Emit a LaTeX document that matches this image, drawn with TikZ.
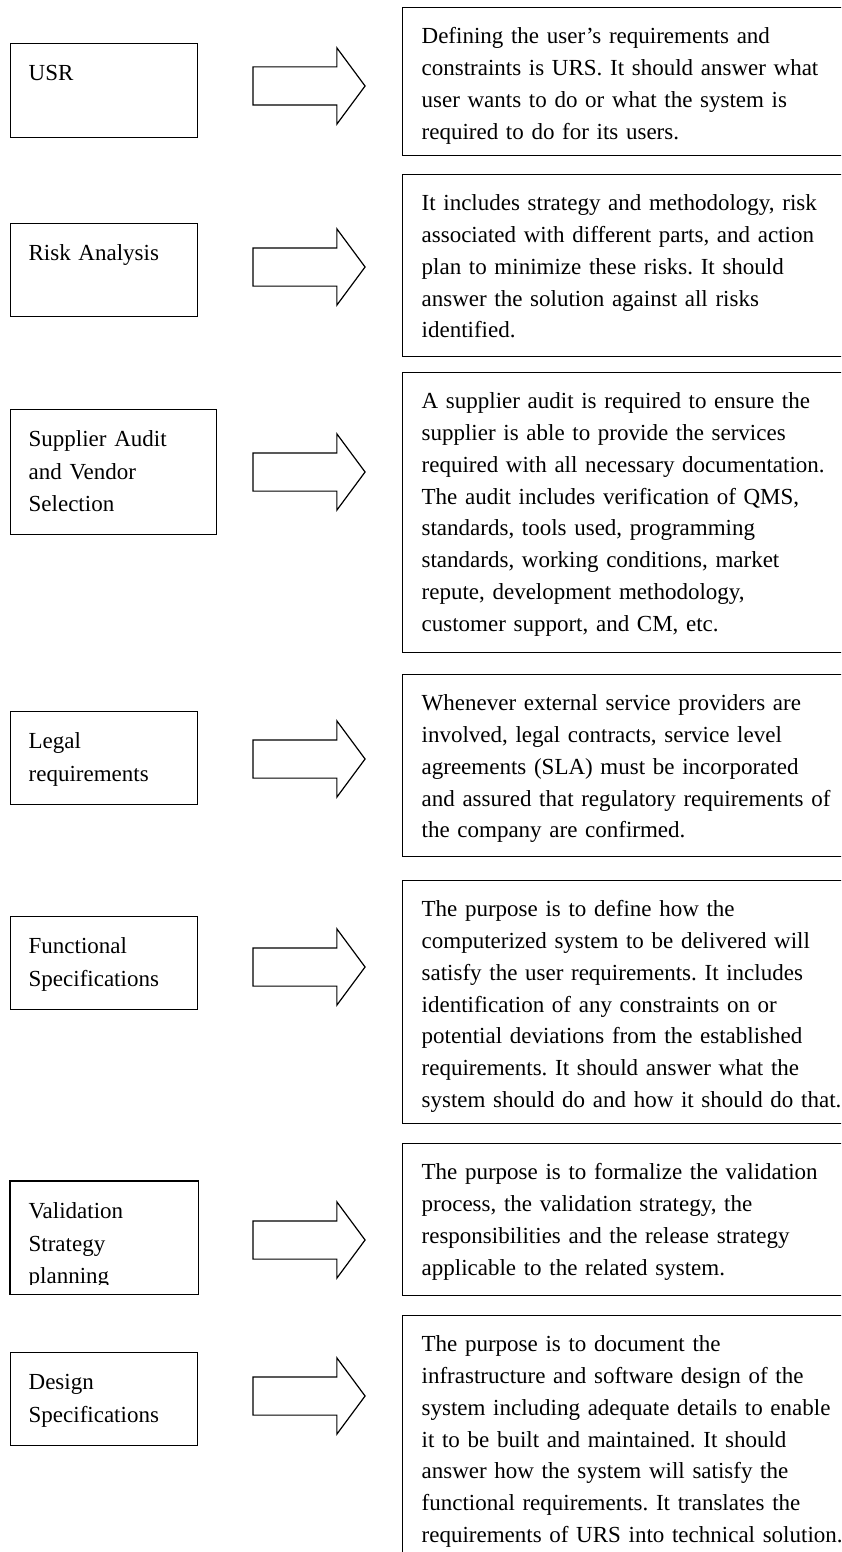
\documentclass[tikz,border=0pt]{standalone}
\usepackage{fontspec}
\setmainfont{Liberation Serif}
\usetikzlibrary{shapes.arrows}
\frenchspacing

\begin{document}
\begin{tikzpicture}[x=1pt,y=-1pt]
\tikzset{
  stagebox/.style={draw,line width=1.3pt,anchor=north west,inner xsep=18pt,inner ysep=0pt,
    text width=#1,align=left,text height=37pt,font=\fontsize{23}{32.5}\selectfont},
  stagebox/.default=151pt,
  descbox/.style={draw,line width=1.3pt,anchor=north west,inner xsep=19pt,inner ysep=0pt,
    text width=440pt,align=left,text height=36pt,font=\fontsize{23}{31.8}\selectfont},
  fatarrow/.style={single arrow,draw,line width=1.2pt,inner xsep=0pt,inner ysep=18.5pt,
    minimum height=112pt,single arrow head extend=19pt,single arrow tip angle=107}
}
\clip (0,0) rectangle (841,1552);

% left column
\node[stagebox,text depth=57pt] (usr) at (10,43) {USR};
\node[stagebox,text depth=56pt] (risk) at (10,223) {Risk Analysis};
\node[stagebox=170pt,text depth=88pt] (audit) at (10,409) {Supplier Audit\\and Vendor\\Selection};
\node[stagebox,text depth=56pt] (legal) at (10,711) {Legal\\requirements};
\node[stagebox,text depth=56pt] (func) at (10,916) {Functional\\Specifications};
\begin{scope}
\clip (0,0) rectangle (841,1284);
\node[stagebox,draw=none,text depth=75pt] (valid) at (10,1181) {Validation\\Strategy\\planning};
\end{scope}
\draw[line width=1.3pt] (valid.north west) rectangle (valid.south east);
\node[stagebox,text depth=56pt] (design) at (10,1352) {Design\\Specifications};

% arrows
\foreach \y [count=\i] in {86,267,472,759,967,1240,1396}
  \node[fatarrow] (arr\i) at (302,\y) {};

% right column
\node[descbox,text depth=112pt] (usrtxt) at (402,7) {Defining the user’s requirements and\\
constraints is URS. It should answer what\\
user wants to do or what the system is\\
required to do for its users.};
\node[descbox,text depth=146pt] (risktxt) at (402,174) {It includes strategy and methodology, risk\\
associated with different parts, and action\\
plan to minimize these risks. It should\\
answer the solution against all risks\\
identified.};
\node[descbox,text depth=244pt] (audittxt) at (402,372) {A supplier audit is required to ensure the\\
supplier is able to provide the services\\
required with all necessary documentation.\\
The audit includes verification of QMS,\\
standards, tools used, programming\\
standards, working conditions, market\\
repute, development methodology,\\
customer support, and CM, etc.};
\node[descbox,text depth=146pt] (legaltxt) at (402,674) {Whenever external service providers are\\
involved, legal contracts, service level\\
agreements (SLA) must be incorporated\\
and assured that regulatory requirements of\\
the company are confirmed.};
\node[descbox,text depth=207pt] (functxt) at (402,880) {The purpose is to define how the\\
computerized system to be delivered will\\
satisfy the user requirements. It includes\\
identification of any constraints on or\\
potential deviations from the established\\
requirements. It should answer what the\\
system should do and how it should do that.};
\node[descbox,text depth=116pt] (validtxt) at (402,1143) {The purpose is to formalize the validation\\
process, the validation strategy, the\\
responsibilities and the release strategy\\
applicable to the related system.};
\node[descbox,text depth=224pt] (designtxt) at (402,1315) {The purpose is to document the\\
infrastructure and software design of the\\
system including adequate details to enable\\
it to be built and maintained. It should\\
answer how the system will satisfy the\\
functional requirements. It translates the\\
requirements of URS into technical solution.};
\end{tikzpicture}
\end{document}
